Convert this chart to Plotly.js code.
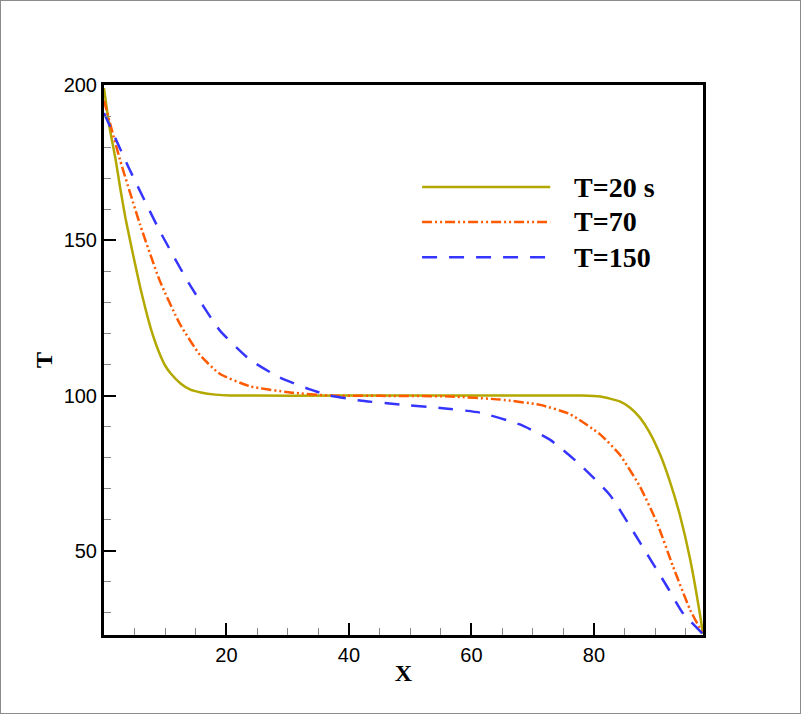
<!DOCTYPE html>
<html>
<head>
<meta charset="utf-8">
<script src="https://cdn.plot.ly/plotly-3.0.1.min.js"></script>
<style>
  html, body { margin: 0; padding: 0; background: #fff; }
  #wrap { position: relative; width: 801px; height: 714px; }
  #chart { width: 801px; height: 714px; }
  #frame { position: absolute; left: 0; top: 0; width: 801px; height: 714px; box-sizing: border-box; border: 1px solid #8c8c8c; pointer-events: none; }
</style>
</head>
<body>
<div id="wrap"><div id="chart"></div><div id="frame"></div></div>
<script>
// ---- data ----
const x_t20 = [0, 0.9, 1.9, 2.7, 3.5, 4.3, 5.2, 6.0, 6.8, 7.6, 8.4, 9.2, 10.0, 10.9, 12.5, 14.1, 15.8, 18.2, 20.6, 40, 60, 78, 81, 82.6, 84.2, 85.9, 87.5, 89.1, 90.8, 92.4, 94.0, 95.7, 97.3, 97.8];
const T_t20 = [199, 186.5, 175.9, 166.2, 157.2, 149.5, 141.2, 134.1, 127.7, 121.9, 117.0, 112.9, 109.6, 107.1, 103.9, 101.9, 101.0, 100.3, 100, 100, 100, 100, 99.7, 99.0, 98.1, 96.1, 92.9, 88.1, 81.0, 72.3, 61.7, 47.3, 29.6, 23.2];

const x_t70 = [0, 2.6, 5.9, 9.1, 12.4, 15.7, 18.9, 23.8, 30.4, 36.9, 45, 56.5, 64.7, 71.2, 76.1, 81, 84.2, 87.5, 90.3, 92.9, 95.7, 97.8];
const T_t70 = [195, 176, 155, 137, 123, 113, 107, 103, 101, 100, 99.9, 99.7, 98.7, 97, 94, 87.5, 81, 70.7, 59, 45, 31, 23.2];

const x_t150 = [0, 4.2, 9.1, 14, 18.9, 23.8, 28.7, 33.6, 36.9, 41.8, 48.3, 54.9, 61.4, 67.9, 72.8, 77.7, 82.6, 87.5, 91.9, 94.5, 97.8];
const T_t150 = [191, 172.7, 153, 135.7, 121, 111.6, 105.8, 102, 100, 98.4, 97.1, 96, 94.5, 90.7, 85.8, 77.8, 68, 52.7, 38.6, 30, 23.2];

const seriesNames = ['T=20 s', 'T=70', 'T=150'];
const xTickVals = [20, 40, 60, 80];
const yTickVals = [50, 100, 150, 200];

// ---- styles ----
const colors = ['#b3a800', '#ff5a00', '#3535ff'];
const dashes = ['solid', '10px,3px,2px,3px,2px,3px', '15px,12px'];

const xs = [x_t20, x_t70, x_t150];
const ys = [T_t20, T_t70, T_t150];

const traces = xs.map((x, i) => ({
  x: x, y: ys[i], type: 'scatter', mode: 'lines', name: seriesNames[i],
  line: { color: colors[i], width: 2.5, dash: dashes[i], shape: 'spline', smoothing: 0.5 },
  showlegend: false
}));

// Legend drawn manually (long sample lines as in reference)
const legY = [0.8145, 0.751, 0.687];
const shapes = legY.map((yy, i) => ({
  type: 'line', xref: 'paper', yref: 'paper', x0: 0.531, x1: 0.745, y0: yy, y1: yy,
  line: { color: colors[i], width: 2.5, dash: dashes[i] }
}));
const annotations = legY.map((yy, i) => ({
  xref: 'paper', yref: 'paper', x: 0.781, y: yy, xanchor: 'left', yanchor: 'middle',
  text: '<b>' + seriesNames[i] + '</b>', showarrow: false,
  font: { family: 'Liberation Serif, Times New Roman, serif', size: 28, color: '#000' }
}));

const axisCommon = {
  showline: true, linewidth: 3, linecolor: '#000', mirror: true,
  showgrid: false, zeroline: false,
  ticks: 'inside', ticklen: 12, tickwidth: 2, tickcolor: '#000',
  tickfont: { family: 'Liberation Sans, Arial, sans-serif', size: 20, color: '#000' }
};

const layout = {
  width: 801, height: 714,
  margin: { l: 104, r: 98, t: 85, b: 79 },
  paper_bgcolor: '#fff', plot_bgcolor: '#fff',
  showlegend: false,
  xaxis: Object.assign({}, axisCommon, {
    range: [0, 97.8], tickmode: 'array', tickvals: xTickVals,
    minor: { ticks: 'inside', ticklen: 7, tickwidth: 1, tickcolor: '#888', tickmode: 'linear', tick0: 0, dtick: 5 },
    title: { text: '<b>X</b>', standoff: 0, font: { family: 'Liberation Serif, Times New Roman, serif', size: 24, color: '#000' } }
  }),
  yaxis: Object.assign({}, axisCommon, {
    range: [22.9, 200], tickmode: 'array', tickvals: yTickVals,
    minor: { ticks: 'inside', ticklen: 7, tickwidth: 1, tickcolor: '#888', tickmode: 'linear', tick0: 0, dtick: 10 },
    title: { text: '<b>T</b>', standoff: 5, font: { family: 'Liberation Serif, Times New Roman, serif', size: 24, color: '#000' } }
  }),
  shapes: shapes,
  annotations: annotations
};

Plotly.newPlot('chart', traces, layout, { displayModeBar: false, staticPlot: true });
</script>
</body>
</html>
